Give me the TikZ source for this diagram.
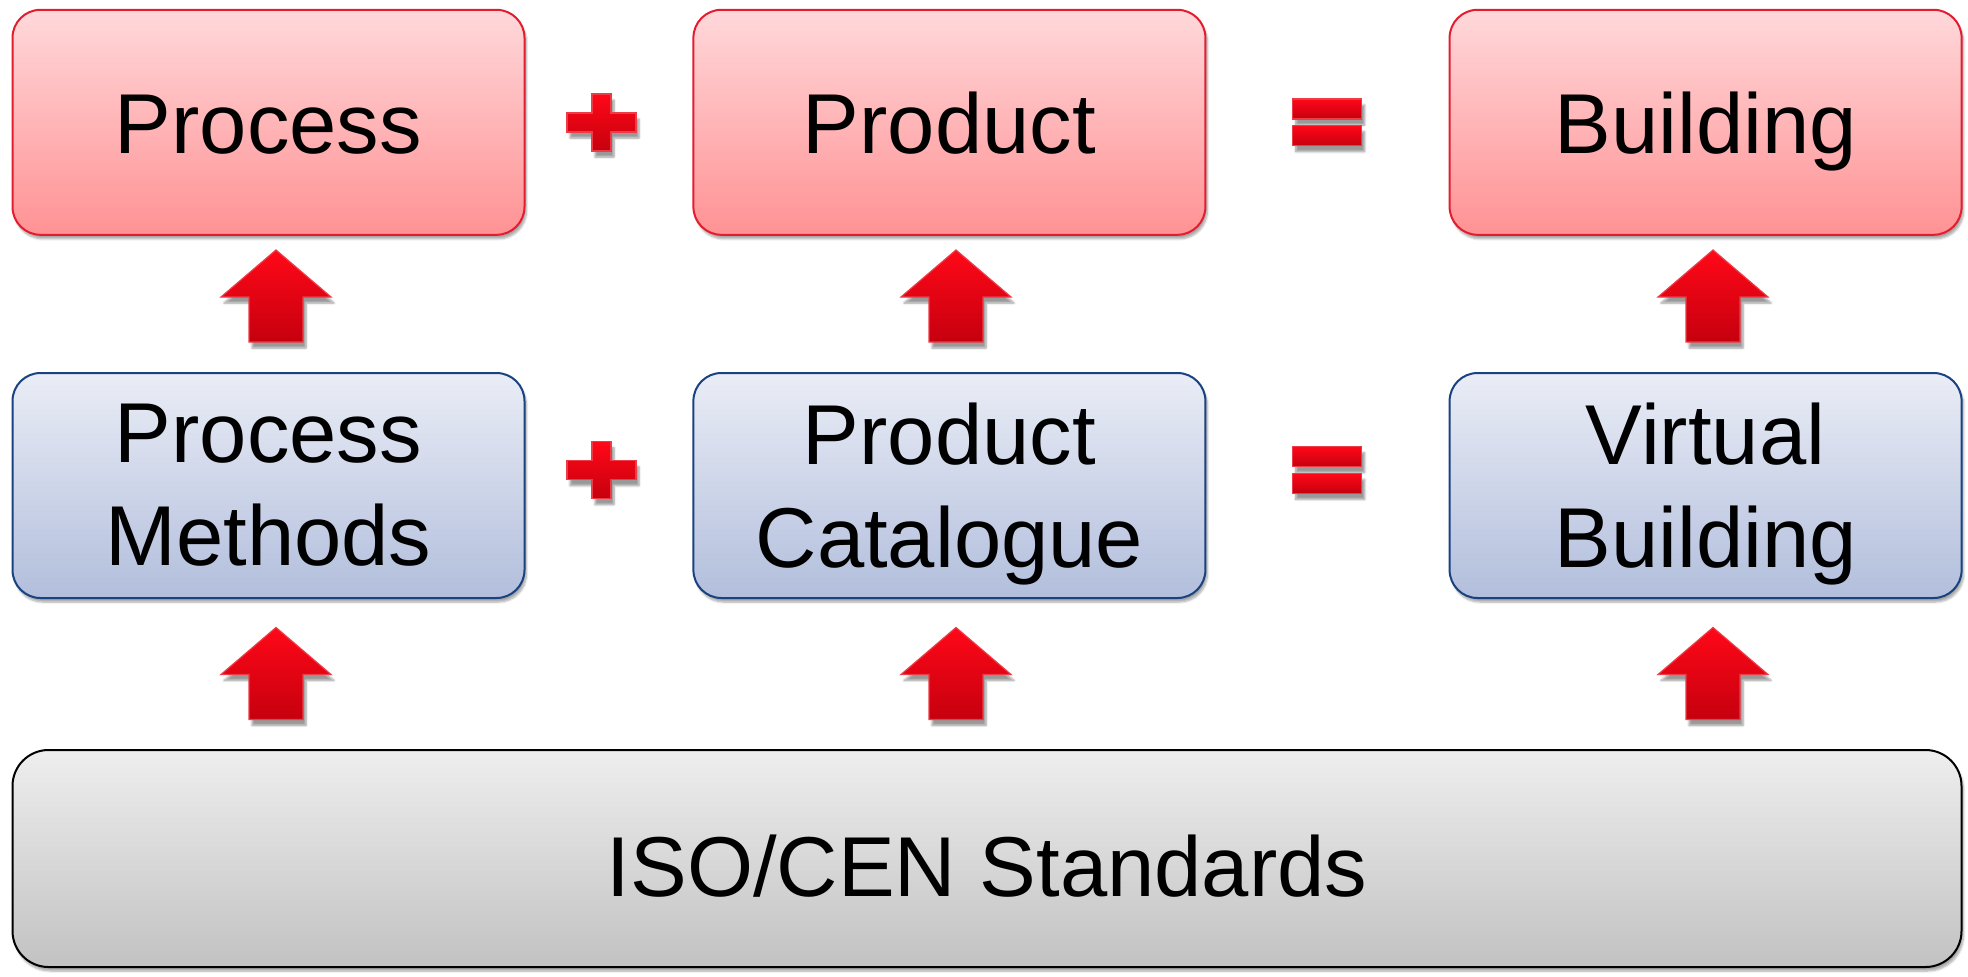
\documentclass[tikz,border=0pt]{standalone}
\usepackage{fontspec}
\setmainfont{Liberation Sans}
\usetikzlibrary{shadows.blur}
\definecolor{redtop}{RGB}{255,216,218}
\definecolor{redbot}{RGB}{255,146,148}
\definecolor{redline}{RGB}{228,28,48}
\definecolor{bluetop}{RGB}{234,237,246}
\definecolor{bluebot}{RGB}{178,190,220}
\definecolor{blueline}{RGB}{24,66,128}
\definecolor{graytop}{RGB}{238,238,238}
\definecolor{graybot}{RGB}{194,194,194}
\definecolor{symtop}{RGB}{255,8,24}
\definecolor{symbot}{RGB}{198,0,14}
\definecolor{symline}{RGB}{236,60,72}
\newcommand\nodesc[1]{\raisebox{0pt}[\height][0pt]{#1}}
\tikzset{
  boxbase/.style={rounded corners=28pt, line width=2pt, align=center,
    font=\fontsize{85}{103}\selectfont, inner sep=0pt,
    blur shadow={shadow xshift=2pt, shadow yshift=-4pt, shadow blur steps=6, shadow opacity=35}},
  redbox/.style={boxbase, draw=redline, top color=redtop, bottom color=redbot,
    minimum width=512pt, minimum height=225pt, text height=62pt, text depth=0pt},
  bluebox/.style={boxbase, draw=blueline, top color=bluetop, bottom color=bluebot,
    minimum width=512pt, minimum height=225pt},
  graybox/.style={boxbase, rounded corners=36pt, draw=black, top color=graytop, bottom color=graybot,
    minimum width=1949pt, minimum height=217pt, text height=62pt, text depth=0pt},
  symfill/.style={draw=symline, line width=1.2pt, top color=symtop, bottom color=symbot,
    blur shadow={shadow xshift=3pt, shadow yshift=-6pt, shadow blur steps=6, shadow opacity=40}},
  uparrow/.pic={\path[symfill] (0,0) -- (55,47) -- (27,47) -- (27,92) -- (-27,92) -- (-27,47) -- (-55,47) -- cycle;},
  plussign/.pic={\path[symfill] (-9.5,-28.5) -- (9.5,-28.5) -- (9.5,-9.5) -- (34.5,-9.5) -- (34.5,9.5) -- (9.5,9.5) -- (9.5,28.5) -- (-9.5,28.5) -- (-9.5,9.5) -- (-34.5,9.5) -- (-34.5,-9.5) -- (-9.5,-9.5) -- cycle;},
  equalsign/.pic={\path[symfill] (-34.5,-23.5) rectangle (34.5,-3.5); \path[symfill] (-34.5,3.2) rectangle (34.5,23.2);}
}
\begin{document}
\begin{tikzpicture}[x=1pt,y=-1pt]
\useasboundingbox (0,0) rectangle (1968,977);
% top row
\node[redbox] (process) at (268.5,122.3) {Process};
\node[redbox] (product) at (949.4,122.3) {Product};
\node[redbox] (building) at (1705.6,122.3) {Building};
% middle row
\node[bluebox] (methods) at (268.5,485.5) {Process\\Methods};
\node[bluebox] (catalogue) at (949.4,485.5) {Product\\\nodesc{Catalogue}};
\node[bluebox] (virtual) at (1705.6,485.5) {Virtual\\\nodesc{Building}};
% bottom
\node[graybox] (iso) at (987,858.5) {};
\node[font=\fontsize{85}{103}\selectfont, inner sep=0pt, anchor=base] (isotext) at (987,896) {ISO/CEN Standards};
% operators
\pic at (601.5,122.5) {plussign};
\pic at (601.5,470.2) {plussign};
\pic at (1327.2,122.5) {equalsign};
\pic at (1327.2,470.2) {equalsign};
% arrows
\pic at (276,250) {uparrow};
\pic at (956,250) {uparrow};
\pic at (1713,250) {uparrow};
\pic at (276,627.5) {uparrow};
\pic at (956,627.5) {uparrow};
\pic at (1713,627.5) {uparrow};
\end{tikzpicture}
\end{document}
